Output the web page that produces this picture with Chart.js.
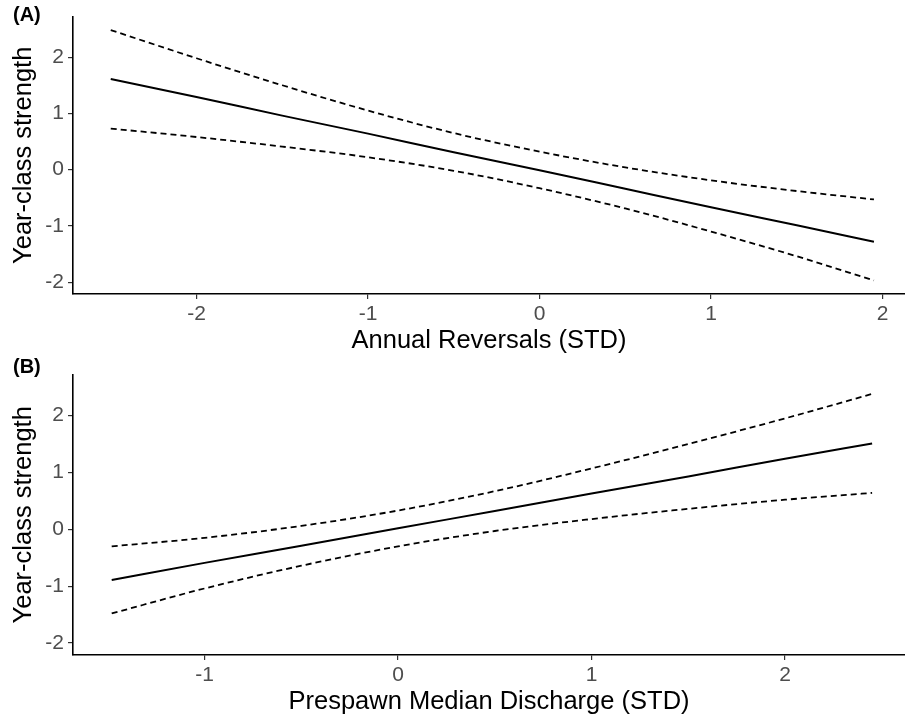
<!DOCTYPE html>
<html>
<head>
<meta charset="utf-8">
<script src="https://cdn.jsdelivr.net/npm/chart.js@4"></script>
<style>
  body { margin: 0; background: #fff; }
  .panel { position: absolute; left: 0; width: 905px; }
  #panelA { top: 0; height: 358px; }
  #panelB { top: 358px; height: 359px; }
</style>
</head>
<body>
<div class="panel" id="panelA"><canvas id="chartA"></canvas></div>
<div class="panel" id="panelB"><canvas id="chartB"></canvas></div>
<script>
// panel A: annual reversals
const xA = [-2.5, -2, -1.5, -1, -0.5, 0, 0.5, 1, 1.5, 1.95];
const fitA = [1.61, 1.29, 0.96, 0.64, 0.31, -0.01, -0.34, -0.67, -0.99, -1.28];
const upperA = [2.48, 1.98, 1.5, 1.05, 0.65, 0.32, 0.04, -0.19, -0.38, -0.53];
const lowerA = [0.73, 0.58, 0.41, 0.22, -0.02, -0.33, -0.69, -1.1, -1.54, -1.97];

// panel B: prespawn median discharge
const xB = [-1.48, -1, -0.5, 0, 0.5, 1, 1.5, 2, 2.45];
const fitB = [-0.89, -0.59, -0.29, 0.02, 0.32, 0.63, 0.93, 1.24, 1.51];
const upperB = [-0.3, -0.15, 0.06, 0.33, 0.67, 1.07, 1.5, 1.95, 2.38];
const lowerB = [-1.48, -1.04, -0.64, -0.3, -0.03, 0.18, 0.36, 0.52, 0.64];

const yTicks = [-2, -1, 0, 1, 2];
const xTicksA = [-2, -1, 0, 1, 2];
const xTicksB = [-1, 0, 1, 2];

const FONT = "'Liberation Sans', Arial, Helvetica, sans-serif";

function pts(xs, ys) {
  return xs.map((x, i) => ({ x: x, y: ys[i] }));
}

function lineSet(xs, ys, dashed) {
  return {
    data: pts(xs, ys),
    showLine: true,
    borderColor: "#000",
    borderWidth: dashed ? 1.8 : 2,
    borderDash: dashed ? [6, 4] : [],
    pointRadius: 0,
    cubicInterpolationMode: "monotone",
    fill: false,
  };
}

// panel letter drawn on the canvas
const tagPlugin = {
  id: "tag",
  afterDraw(chart, args, opts) {
    const ctx = chart.ctx;
    ctx.save();
    ctx.font = "bold 20px " + FONT;
    ctx.fillStyle = "#000";
    ctx.textBaseline = "middle";
    ctx.fillText(opts.text, 13, opts.y);
    ctx.restore();
  },
};

function makeChart(id, cfg) {
  const ctx = document.getElementById(id).getContext("2d");
  return new Chart(ctx, {
    type: "scatter",
    data: {
      datasets: [
        lineSet(cfg.xs, cfg.upper, true),
        lineSet(cfg.xs, cfg.lower, true),
        lineSet(cfg.xs, cfg.fit, false),
      ],
    },
    plugins: [tagPlugin],
    options: {
      responsive: true,
      maintainAspectRatio: false,
      animation: false,
      events: [],
      layout: { padding: { top: cfg.padTop, left: 0, right: 0, bottom: 0 } },
      plugins: {
        legend: { display: false },
        tooltip: { enabled: false },
        tag: { text: cfg.tag, y: cfg.tagY },
      },
      scales: {
        x: {
          type: "linear",
          min: cfg.xMin,
          max: cfg.xMax,
          afterBuildTicks: (s) => { s.ticks = cfg.xTicks.map((v) => ({ value: v })); },
          afterFit: (s) => { s.height = cfg.xAxisH; },
          grid: { drawOnChartArea: false, drawTicks: true, tickLength: 5, color: "#333", lineWidth: 1.2 },
          border: { display: true, color: "#000", width: 1.6 },
          ticks: { color: "#4d4d4d", font: { family: FONT, size: 21 }, padding: 3, maxRotation: 0 },
          title: {
            display: true,
            text: cfg.xTitle,
            color: "#000",
            font: { family: FONT, size: 25.5 },
            padding: { top: 0, bottom: cfg.xTitlePad },
          },
        },
        y: {
          type: "linear",
          min: -2.21,
          max: 2.72,
          afterBuildTicks: (s) => { s.ticks = yTicks.map((v) => ({ value: v })); },
          afterFit: (s) => { s.width = 73; },
          grid: { drawOnChartArea: false, drawTicks: true, tickLength: 5, color: "#333", lineWidth: 1.2 },
          border: { display: true, color: "#000", width: 1.6 },
          ticks: { color: "#4d4d4d", font: { family: FONT, size: 21 }, padding: 4 },
          title: {
            display: true,
            text: "Year-class strength",
            color: "#000",
            font: { family: FONT, size: 25.5 },
            padding: { top: 9, bottom: 0 },
          },
        },
      },
    },
  });
}

makeChart("chartA", {
  xs: xA, fit: fitA, upper: upperA, lower: lowerA,
  xMin: -2.72, xMax: 2.131, xTicks: xTicksA,
  xTitle: "Annual Reversals (STD)",
  padTop: 10, xAxisH: 64, xTitlePad: 2,
  tag: "(A)", tagY: 15,
});

makeChart("chartB", {
  xs: xB, fit: fitB, upper: upperB, lower: lowerB,
  xMin: -1.68, xMax: 2.62, xTicks: xTicksB,
  xTitle: "Prespawn Median Discharge (STD)",
  padTop: 13, xAxisH: 62, xTitlePad: 0,
  tag: "(B)", tagY: 9,
});
</script>
</body>
</html>
